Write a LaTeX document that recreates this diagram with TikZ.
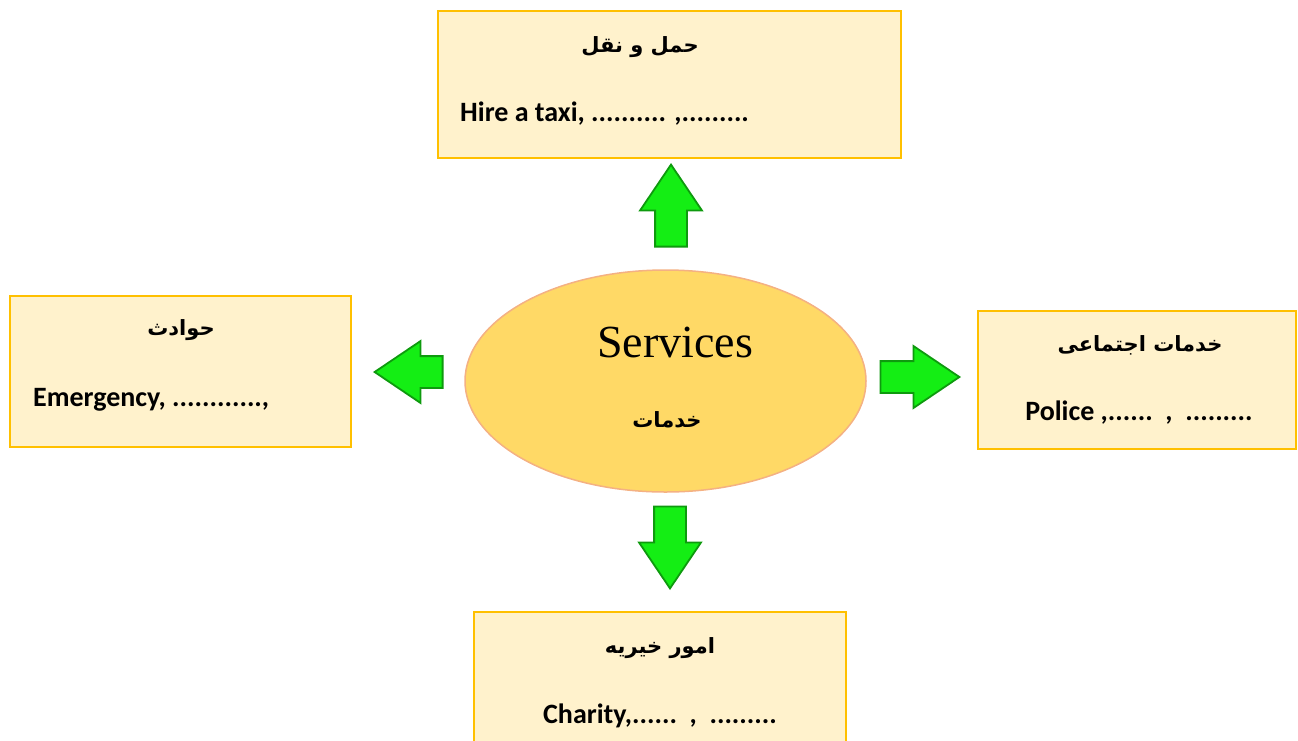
\documentclass[tikz,border=0pt]{standalone}
\usepackage{fontspec}
\setmainfont{Carlito}
\newfontfamily\arabicfont[Script=Arabic]{DejaVu Sans}
\newfontfamily\servfont{Liberation Serif}
\TeXXeTstate=1
\usetikzlibrary{shapes.geometric,shapes.arrows}

\definecolor{boxfill}{HTML}{FFF2CC}
\definecolor{boxline}{HTML}{FFC000}
\definecolor{ellfill}{HTML}{FFD966}
\definecolor{ellline}{HTML}{F4B183}
\definecolor{arrfill}{HTML}{14EE14}
\definecolor{arrline}{HTML}{0E9A0E}

\tikzset{
  topic/.style={draw=boxline, fill=boxfill, line width=2pt, inner sep=0pt},
  hub/.style={ellipse, draw=ellline, fill=ellfill, line width=1.5pt,
    minimum width=401, minimum height=222, inner sep=0pt},
  entxt/.style={font=\bfseries\fontsize{28}{32}\selectfont, inner sep=0pt},
  artxt/.style={font=\arabicfont\bfseries\fontsize{21}{25}\selectfont, inner sep=0pt},
  blockarrow/.style={single arrow, draw=arrline, fill=arrfill, line width=1.8pt,
    minimum width=60, single arrow head extend=15, single arrow tip angle=68,
    inner xsep=0pt, inner ysep=15pt, anchor=tip}
}

\begin{document}
\begin{tikzpicture}[x=1pt, y=-1pt]
    \useasboundingbox (0,0) rectangle (1298,740);
    \clip (0,0) rectangle (1298,740);

    % boxes
    \node[topic, minimum width=463, minimum height=147] (trans) at (669.5,84.5) {};
    \node[topic, minimum width=341, minimum height=151] (accid) at (180.5,371.5) {};
    \node[topic, minimum width=318, minimum height=138] (social) at (1137,380) {};
    \node[topic, minimum width=372, minimum height=156] (charity) at (660,690) {};

    % centre
    \node[hub] (serv) at (665.5,381) {};
    \node[font=\servfont\fontsize{46}{50}\selectfont, inner sep=0pt] (servEn) at (675,342) {Services};
    \node[artxt] (servAr) at (667,420) {\beginR خدمات\endR};

    % box texts
    \node[artxt] (transAr) at (640,47) {\beginR حمل و نقل\endR};
    \node[entxt, anchor=west] (transEn) at (460,114) {Hire a taxi, .......... ,.........};

    \node[artxt] (accidAr) at (181,330) {\beginR حوادث\endR};
    \node[entxt, anchor=west] (accidEn) at (33,400) {Emergency, ............,};

    \node[artxt] (socialAr) at (1140,345) {\beginR خدمات اجتماعی\endR};
    \node[entxt] (socialEn) at (1139,413) {Police ,......~~,~~.........};

    \node[artxt] (charityAr) at (660,648) {\beginR امور خیریه\endR};
    \node[entxt] (charityEn) at (660,716) {Charity,......~~,~~.........};

    % arrows (placed by their tips)
    \node[blockarrow, minimum height=82, rotate=90] (upA) at (671,163) {};
    \node[blockarrow, minimum height=68, rotate=180] (leftA) at (373,372) {};
    \node[blockarrow, minimum height=79] (rightA) at (961,377) {};
    \node[blockarrow, minimum height=82, rotate=-90] (downA) at (670,590) {};
\end{tikzpicture}
\end{document}
